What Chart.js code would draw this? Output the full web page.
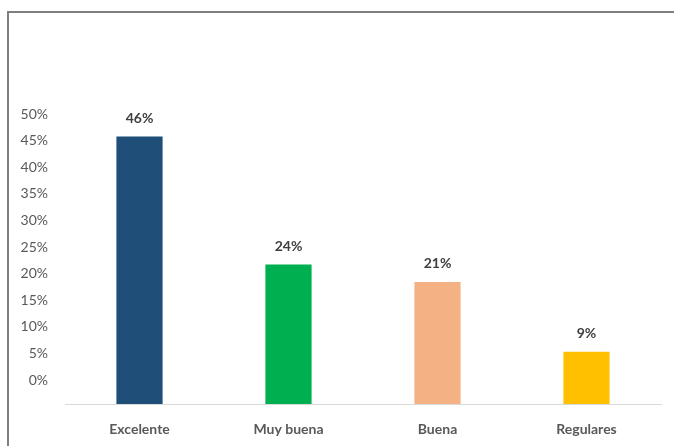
<!DOCTYPE html>
<html>
<head>
<meta charset="utf-8">
<script src="https://cdn.jsdelivr.net/npm/chart.js@4.4.1/dist/chart.umd.min.js"></script>
<style>
    html, body { margin: 0; padding: 0; background: #fff; overflow: hidden; }
    #wrap { position: relative; width: 674px; height: 446px; }
    #frame {
        position: absolute; left: 7px; top: 11px; width: 720px; height: 500px;
        border-left: 2px solid #7f7f7f; border-top: 2px solid #7f7f7f;
    }
    canvas { position: absolute; left: 0; top: 0; }
</style>
</head>
<body>
<div id="wrap">
    <div id="frame"></div>
    <canvas id="chart" width="674" height="446"></canvas>
</div>
<script>
// Chart data
const categories = ['Excelente', 'Muy buena', 'Buena', 'Regulares'];
const values = [46, 24, 21, 9];
const barColors = ['#1F4E79', '#00B050', '#F4B183', '#FFC000'];
const tickValues = [0, 5, 10, 15, 20, 25, 30, 35, 40, 45, 50];

const fontFamily = 'Lato, "Open Sans", sans-serif';

// Draws the value above each bar
const valueLabels = {
    id: 'valueLabels',
    afterDatasetsDraw(chart) {
        const ctx = chart.ctx;
        const meta = chart.getDatasetMeta(0);
        ctx.save();
        ctx.font = 'bold 14px ' + fontFamily;
        ctx.fillStyle = '#404040';
        ctx.textAlign = 'center';
        ctx.textBaseline = 'bottom';
        meta.data.forEach((bar, i) => {
            ctx.fillText(values[i] + '%', bar.x, bar.y - 11);
        });
        ctx.restore();
    }
};

new Chart(document.getElementById('chart'), {
    type: 'bar',
    data: {
        labels: categories,
        datasets: [{
            data: values,
            backgroundColor: barColors,
            borderWidth: 0,
            categoryPercentage: 1,
            barPercentage: 0.31,
            yAxisID: 'y'
        }]
    },
    options: {
        responsive: false,
        animation: false,
        layout: { padding: { top: 100, right: 13, left: 0, bottom: 0 } },
        plugins: {
            legend: { display: false },
            tooltip: { enabled: false }
        },
        scales: {
            x: {
                grid: { display: false, drawTicks: false },
                border: { display: true, color: '#d9d9d9', width: 1 },
                ticks: {
                    color: '#595959',
                    padding: 17,
                    font: { family: fontFamily, size: 14, weight: 'bold' }
                },
                afterFit(scale) { scale.height = 42; }
            },
            y: {
                display: false,
                min: 0,
                max: 52.3
            },
            yTicks: {
                position: 'left',
                min: -4.51,
                max: 52.63,
                grid: { display: false, drawTicks: false },
                border: { display: false },
                ticks: {
                    color: '#595959',
                    padding: 17,
                    font: { family: fontFamily, size: 14 },
                    callback: v => v + '%'
                },
                afterBuildTicks(scale) {
                    scale.ticks = tickValues.map(v => ({ value: v }));
                },
                afterFit(scale) { scale.width = 65; }
            }
        }
    },
    plugins: [valueLabels]
});
</script>
</body>
</html>
